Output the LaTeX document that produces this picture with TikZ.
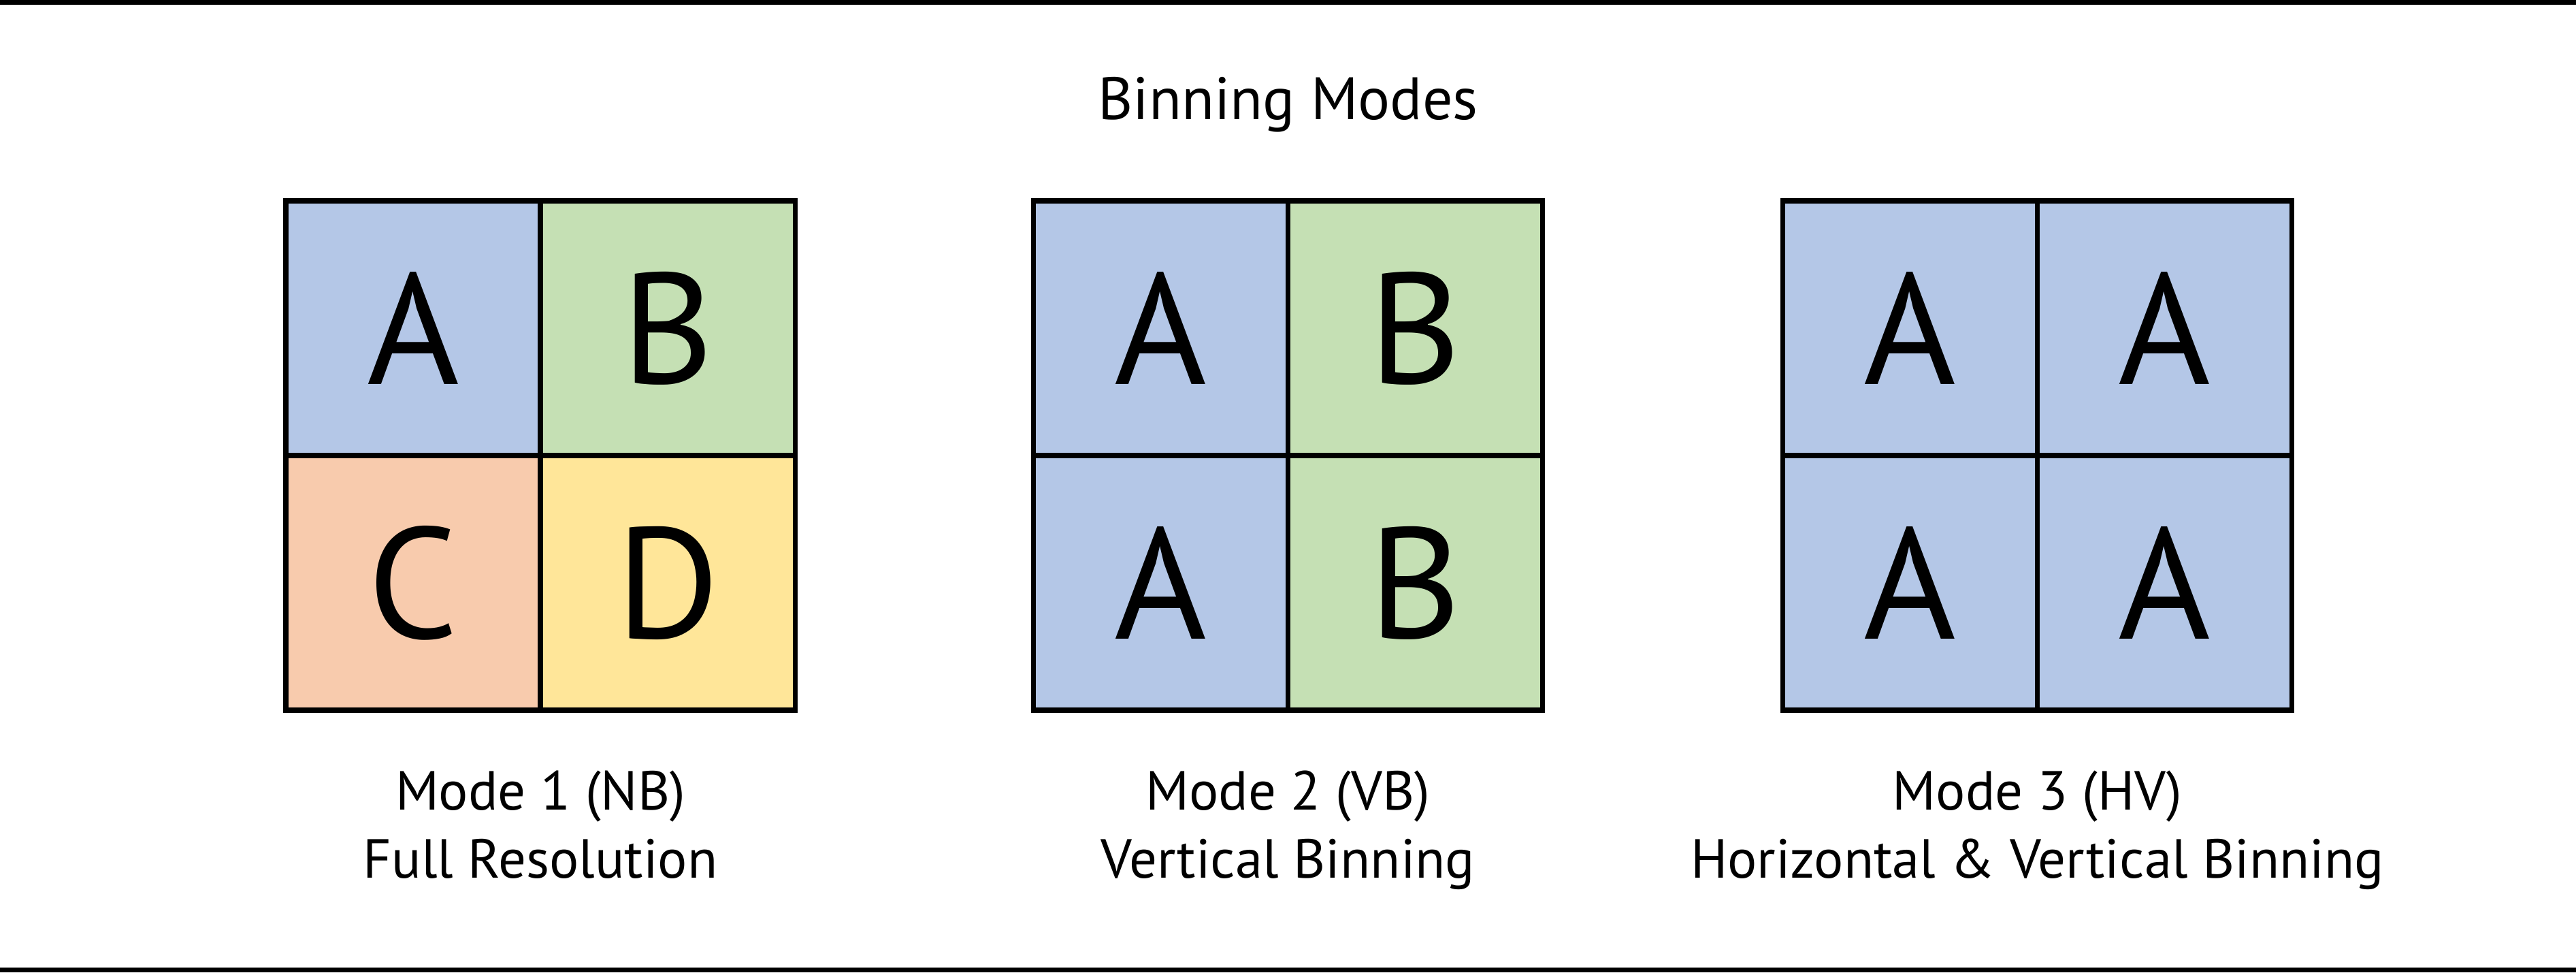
\documentclass[tikz,border=0pt]{standalone}
\usepackage{fontspec}
\setmainfont{PT Sans}
\usetikzlibrary{positioning}
\definecolor{CellBlue}{RGB}{180, 199, 231}
\definecolor{CellGreen}{RGB}{197, 224, 180}
\definecolor{CellOrange}{RGB}{248, 203, 173}
\definecolor{CellYellow}{RGB}{255, 230, 153}

\begin{document}
\begin{tikzpicture}[
    cell/.style={draw, line width=2pt, outer sep=0pt, inner sep=0pt,
        minimum size=3.74cm, font=\fontsize{66}{66}\selectfont},
    caption/.style={anchor=base, align=center, font=\fontsize{23}{28.45}\selectfont}
]
    \useasboundingbox (0,0) rectangle (37.85,14.28);
    \draw[line width=2pt] (0,14.245) -- (37.85,14.245);
    \draw[line width=2pt] (0,0.035) -- (37.85,0.035);
    \node[anchor=base, font=\fontsize{25}{30}\selectfont] (title) at (18.925,12.52) {Binning Modes};

    % Mode 1
    \begin{scope}[xshift=7.94cm]
        \node[cell, fill=CellBlue] (nbA) at (-1.87,9.46) {A};
        \node[cell, fill=CellGreen, right=0pt of nbA] (nbB) {B};
        \node[cell, fill=CellOrange, below=0pt of nbA] (nbC) {C};
        \node[cell, fill=CellYellow, right=0pt of nbC] (nbD) {D};
        \node[caption] (nbText) at (0,1.39) {Mode 1 (NB)\\Full Resolution};
    \end{scope}

    % Mode 2
    \begin{scope}[xshift=18.925cm]
        \node[cell, fill=CellBlue] (vbA) at (-1.87,9.46) {A};
        \node[cell, fill=CellGreen, right=0pt of vbA] (vbB) {B};
        \node[cell, fill=CellBlue, below=0pt of vbA] (vbC) {A};
        \node[cell, fill=CellGreen, right=0pt of vbC] (vbD) {B};
        \node[caption] (vbText) at (0,1.39) {Mode 2 (VB)\\Vertical Binning};
    \end{scope}

    % Mode 3
    \begin{scope}[xshift=29.935cm]
        \node[cell, fill=CellBlue] (hvA) at (-1.87,9.46) {A};
        \node[cell, fill=CellBlue, right=0pt of hvA] (hvB) {A};
        \node[cell, fill=CellBlue, below=0pt of hvA] (hvC) {A};
        \node[cell, fill=CellBlue, right=0pt of hvC] (hvD) {A};
        \node[caption] (hvText) at (0,1.39) {Mode 3 (HV)\\Horizontal \& Vertical Binning};
    \end{scope}
\end{tikzpicture}
\end{document}
